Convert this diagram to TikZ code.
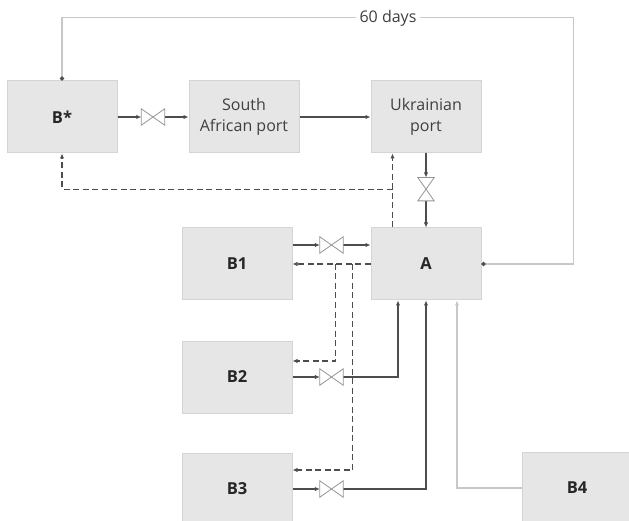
\documentclass[tikz,border=0pt]{standalone}
\usepackage{fontspec}
\setmainfont{Open Sans}
\usepackage{xcolor}
\usepackage{tikz}
\usetikzlibrary{arrows.meta, positioning, calc}
\definecolor{boxfill}{RGB}{230,230,230}
\definecolor{boxline}{RGB}{212,212,212}
\definecolor{linedark}{RGB}{77,77,77}
\definecolor{linelight}{RGB}{200,200,200}
\definecolor{valveline}{RGB}{150,150,150}
\definecolor{textgray}{RGB}{64,64,64}

\begin{document}
\begin{tikzpicture}[
    x=1pt, y=1pt,
    node distance=71pt and 71pt,
    box/.style={rectangle, draw=boxline, line width=1pt, fill=boxfill, align=center, minimum width=110pt, minimum height=72pt, inner sep=2pt, font=\fontsize{16}{21.5}\selectfont, text=textgray},
    tank/.style={box, font=\fontsize{16.5}{21.5}\selectfont\bfseries, text=black!85},
    valve/.style={rectangle, inner sep=0pt, minimum width=23pt, minimum height=16pt},
    vvalve/.style={rectangle, inner sep=0pt, minimum width=16pt, minimum height=23pt},
    valvebody/.style={draw=valveline, fill=white, line width=0.8pt, line join=miter},
    flow/.style={-{Latex[length=5pt, width=4.5pt]}, draw=linedark, line width=1.4pt},
    ret/.style={flow, line width=1.3pt, dash pattern=on 6pt off 3.5pt},
    feed/.style={-{Latex[length=5pt, width=4.5pt]}, draw=linelight, line width=1.3pt},
    cycleline/.style={{Circle[length=4pt, color=linedark]}-{Circle[length=4pt, color=linedark]}, draw=linelight, line width=1.3pt},
    daylabel/.style={fill=white, inner sep=4pt, font=\fontsize{16}{20}\selectfont, text=textgray}
]
\useasboundingbox (0,0) rectangle (629,-521);
\node[tank] (bstar) at (62,-117) {B*};
\node[box,right=of bstar] (sa) {South\\African port};
\node[box,right=of sa] (ukr) {Ukrainian\\port};
\node[tank,below=74pt of ukr] (a) {A};
\node[tank,left=78pt of a] (b1) {B1};
\node[tank,below=40pt of b1] (b2) {B2};
\node[tank,below=39pt of b2] (b3) {B3};
\node[tank,below right=151pt and 40pt of a] (b4) {B4};
\node[valve] (v1) at ($(bstar.east)!.5!(sa.west)$) {};
\node[vvalve,below=24pt of ukr] (v2) {};
\node[valve] (v3) at ($(b1.east)!.5!(a.west)+(0,19)$) {};
\node[valve] (v4) at (v3 |- b2) {};
\node[valve] (v5) at (v3 |- b3) {};

\draw[cycleline] (a.east) -- ++(92pt,0) |- ([yshift=63pt]bstar.north) -- (bstar.north);
\node[daylabel] (days) at (388,-18) {60 days};
\draw[flow] (bstar) -- (v1);
\draw[flow] (v1) -- (sa);
\draw[flow] (sa) -- (ukr);
\draw[flow] (ukr) -- (v2);
\draw[flow] (v2) -- (a);
\draw[ret] ([xshift=22pt]a.north west) -- ([xshift=22pt]ukr.south west);
\draw[ret] ([xshift=22pt,yshift=38pt]a.north west) -| (bstar.south);
\draw[flow] (b1.east |- v3) -- (v3);
\draw[flow] (v3) -- (a.west |- v3);
\draw[ret] (a.west) -- (b1.east);
\draw[ret] ([xshift=-35pt]a.west) |- ([yshift=16pt]b2.east);
\draw[ret] ([xshift=-18pt]a.west) |- ([yshift=19pt]b3.east);
\draw[flow] (b2) -- (v4);
\draw[flow] (v4) -| ([xshift=-28pt]a.south);
\draw[flow] (b3) -- (v5);
\draw[flow] (v5) -| (a.south);
\draw[feed] (b4.west) -| ([xshift=31pt]a.south);
\foreach \v in {v1,v3,v4,v5}
  \draw[valvebody] (\v.north west) -- (\v.south east) -- (\v.north east) -- (\v.south west) -- cycle;
\draw[valvebody] (v2.north west) -- (v2.north east) -- (v2.south west) -- (v2.south east) -- cycle;
\end{tikzpicture}
\end{document}
